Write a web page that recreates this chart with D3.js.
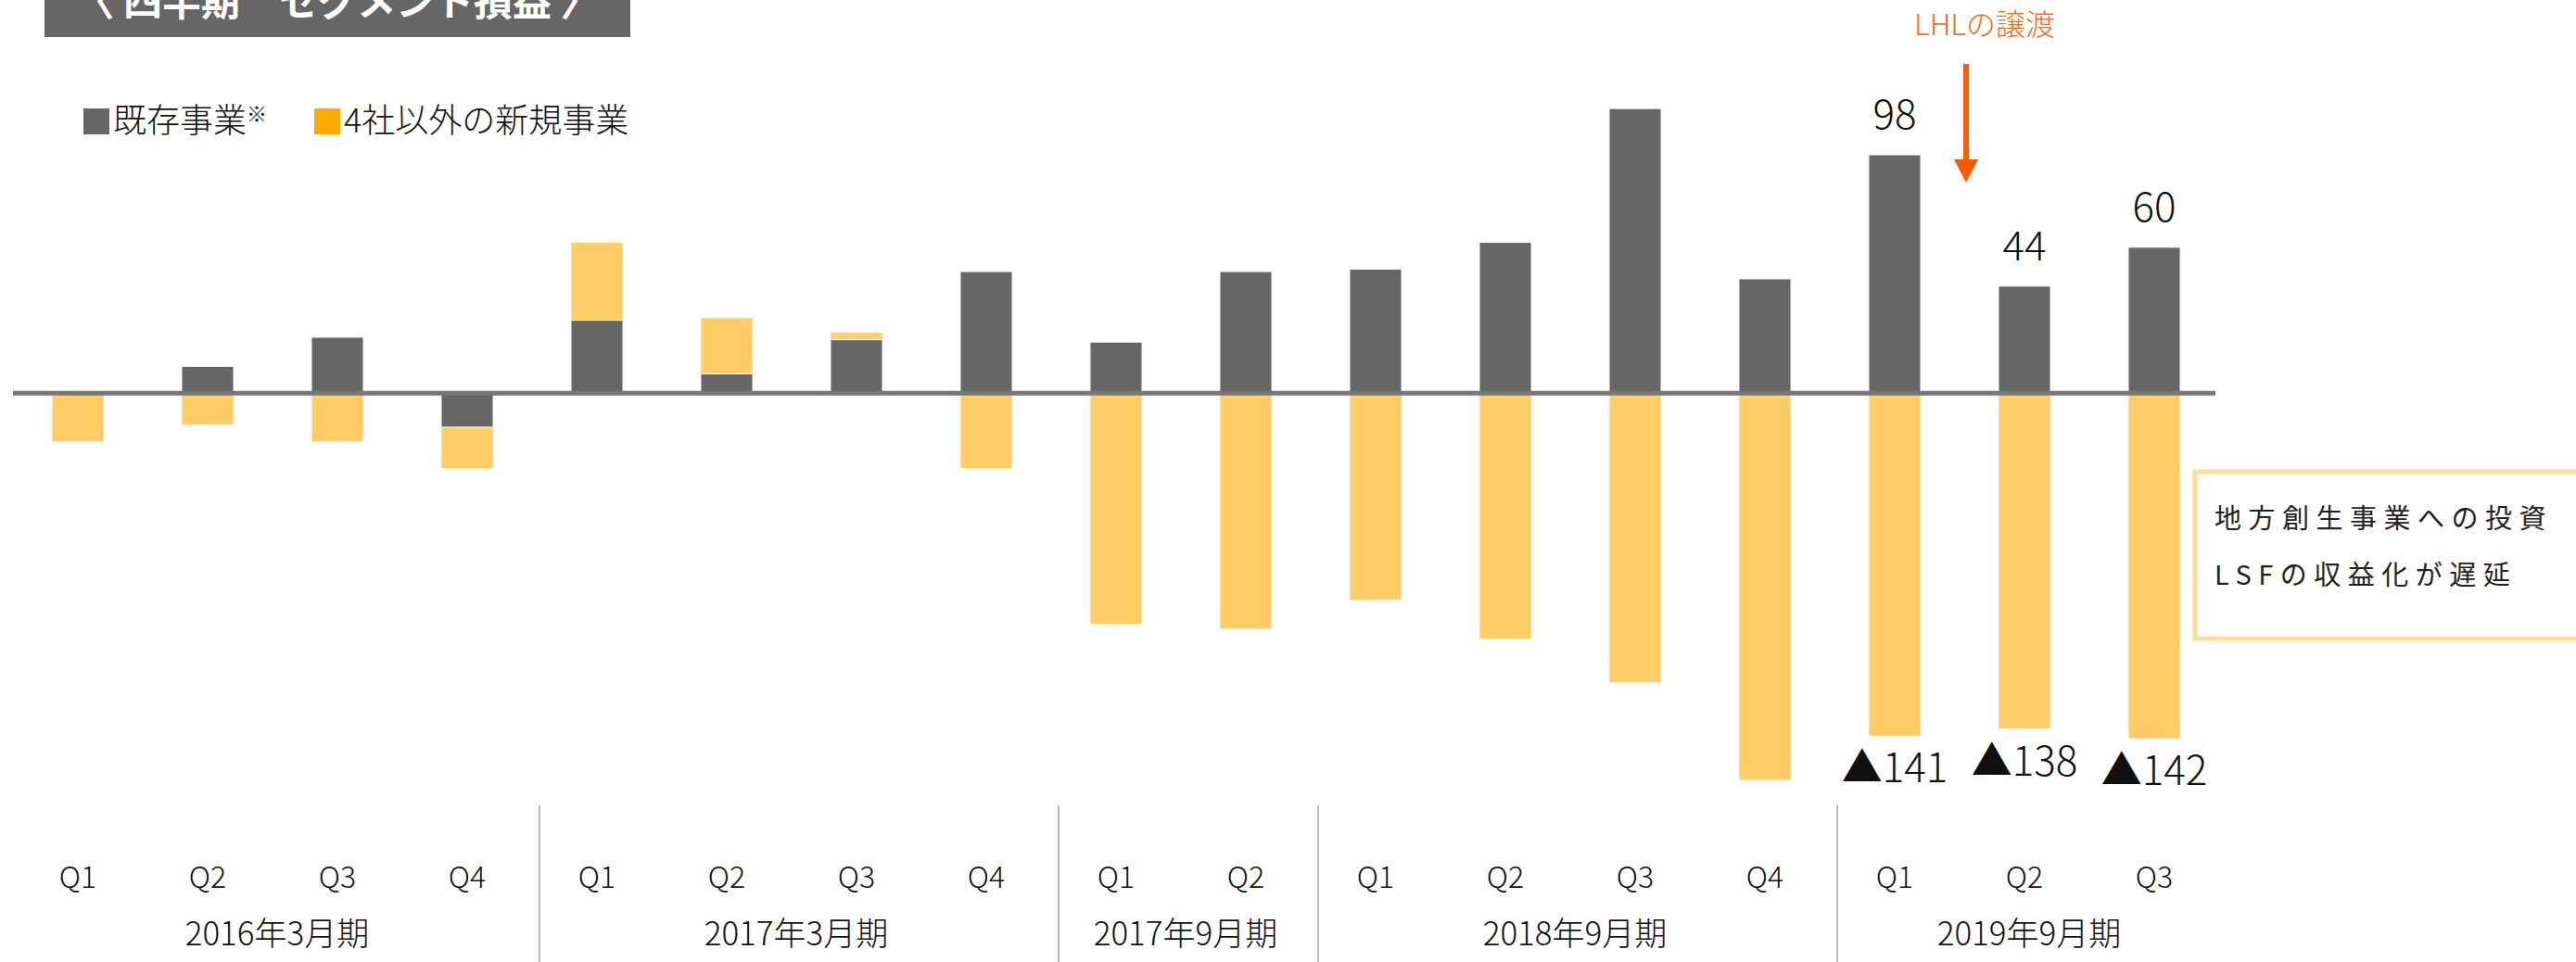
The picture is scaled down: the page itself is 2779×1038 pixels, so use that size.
<!DOCTYPE html>
<html>
<head>
<meta charset="utf-8">
<script src="https://cdn.jsdelivr.net/npm/d3@7"></script>
<style>
  body { margin: 0; background: #fff; }
  svg { display: block; font-family: "Noto Sans CJK JP", "Noto Sans", sans-serif; }
</style>
</head>
<body>
<div id="chart"></div>
<script>
// quarters along the axis and the fiscal period each one belongs to
var quarters = ["Q1", "Q2", "Q3", "Q4", "Q1", "Q2", "Q3", "Q4", "Q1", "Q2", "Q1", "Q2", "Q3", "Q4", "Q1", "Q2", "Q3"];
var periods = ["2016年3月期", "2017年3月期", "2017年9月期", "2018年9月期", "2019年9月期"];
var periodOf = [0, 0, 0, 0, 1, 1, 1, 1, 2, 2, 3, 3, 3, 3, 4, 4, 4];

// segment profit (億円)
var existing = [0, 11, 23, -14, 30, 8, 22, 50, 21, 50, 51, 62, 117, 47, 98, 44, 60];
var newBiz = [-20, -13, -20, -17, 32, 23, 3, -31, -95, -97, -85, -101, -119, -159, -141, -138, -142];

// the last three quarters carry value labels
var labelFrom = 14;

var legendLabels = ["既存事業", "4社以外の新規事業"];
var barColors = { existing: "#666666", newBiz: "#ffcc66" };
var legendColors = ["#666666", "#ffaa00"];

var title = "〈 四半期　セグメント損益 〉";
var noteLines = ["地方創生事業への投資", "LSFの収益化が遅延"];
var arrowText = "LHLの譲渡";

var width = 2779;
var height = 1038;

var svg = d3.select("#chart").append("svg")
  .attr("width", width)
  .attr("height", height);

var x = d3.scaleBand()
  .domain(d3.range(quarters.length))
  .range([14, 2394])
  .paddingInner(0.6)
  .paddingOuter(0.3);

var y = d3.scaleLinear()
  .domain([-160, 120])
  .range([844.3, 109.3]);

var rows = existing.map(function (d, i) { return { existing: d, newBiz: newBiz[i] }; });
var series = d3.stack()
  .keys(["existing", "newBiz"])
  .offset(d3.stackOffsetDiverging)(rows);

// bars
svg.append("g").selectAll("g")
  .data(series)
  .enter().append("g")
  .attr("fill", function (s) { return barColors[s.key]; })
  .selectAll("rect")
  .data(function (s) { return s; })
  .enter().append("rect")
  .attr("x", function (d, i) { return x(i); })
  .attr("y", function (d) { return y(Math.max(d[0], d[1])); })
  .attr("width", x.bandwidth())
  .attr("height", function (d) { return Math.abs(y(d[0]) - y(d[1])); })
  .attr("stroke", "#f4f4f4")
  .attr("stroke-width", 1);

// zero line
svg.append("line")
  .attr("x1", 14).attr("x2", 2390)
  .attr("y1", y(0)).attr("y2", y(0))
  .attr("stroke", "#777")
  .attr("stroke-width", 5);

// value labels
var cx = function (i) { return x(i) + x.bandwidth() / 2; };
var labelled = d3.range(labelFrom, quarters.length);

svg.append("g").selectAll("text")
  .data(labelled)
  .enter().append("text")
  .attr("x", cx)
  .attr("y", function (i) { return y(existing[i]) - 28; })
  .attr("text-anchor", "middle")
  .attr("font-size", 44)
  .attr("font-weight", 300)
  .attr("fill", "#111")
  .text(function (i) { return existing[i]; });

svg.append("g").selectAll("text")
  .data(labelled)
  .enter().append("text")
  .attr("x", cx)
  .attr("y", function (i) { return y(Math.min(0, existing[i]) + newBiz[i]) + 50; })
  .attr("text-anchor", "middle")
  .attr("font-size", 44)
  .attr("font-weight", 300)
  .attr("fill", "#111")
  .text(function (i) { return "▲" + Math.abs(newBiz[i]); });

// quarter ticks and fiscal period labels
svg.append("g").selectAll("text")
  .data(quarters)
  .enter().append("text")
  .attr("x", function (d, i) { return cx(i); })
  .attr("y", 958)
  .attr("text-anchor", "middle")
  .attr("font-size", 32)
  .attr("font-weight", 300)
  .attr("fill", "#111")
  .text(function (d) { return d; });

var groups = periods.map(function (p, k) {
  var idx = d3.range(quarters.length).filter(function (i) { return periodOf[i] === k; });
  return { label: p, first: idx[0], last: idx[idx.length - 1] };
});

svg.append("g").selectAll("text")
  .data(groups)
  .enter().append("text")
  .attr("x", function (g) { return (cx(g.first) + cx(g.last)) / 2 + 5; })
  .attr("y", 1020)
  .attr("text-anchor", "middle")
  .attr("font-size", 35)
  .attr("font-weight", 300)
  .attr("fill", "#111")
  .text(function (g) { return g.label; });

svg.append("g").selectAll("line")
  .data(groups.slice(1))
  .enter().append("line")
  .attr("x1", function (g) { return x(g.first) - x.step() * 0.3 + 8; })
  .attr("x2", function (g) { return x(g.first) - x.step() * 0.3 + 8; })
  .attr("y1", 869).attr("y2", height)
  .attr("stroke", "#bbb")
  .attr("stroke-width", 2);

// title tab (its text runs off the top edge, as in the source slide)
svg.append("rect")
  .attr("x", 48).attr("y", 0)
  .attr("width", 632).attr("height", 40)
  .attr("fill", "#666");

svg.append("text")
  .attr("x", 364).attr("y", 17)
  .attr("text-anchor", "middle")
  .attr("font-size", 42)
  .attr("font-weight", "bold")
  .attr("fill", "#fff")
  .text(title);

// legend
var legend = svg.append("g");
var legendX = [90, 339];

legend.selectAll("rect")
  .data(legendLabels)
  .enter().append("rect")
  .attr("x", function (d, i) { return legendX[i]; })
  .attr("y", 117)
  .attr("width", 28).attr("height", 28)
  .attr("fill", function (d, i) { return legendColors[i]; });

var legendText = legend.selectAll("text")
  .data(legendLabels)
  .enter().append("text")
  .attr("x", function (d, i) { return legendX[i] + 32; })
  .attr("y", 143)
  .attr("font-size", 36)
  .attr("font-weight", 300)
  .attr("fill", "#111");

legendText.append("tspan").text(function (d) { return d; });
legendText.filter(function (d, i) { return i === 0; })
  .append("tspan")
  .attr("font-size", 22)
  .attr("dy", -12)
  .text("※");

// annotation arrow
var arrowX = (x(labelFrom) + x.bandwidth() + x(labelFrom + 1)) / 2 + 7;

svg.append("text")
  .attr("x", arrowX + 20).attr("y", 38)
  .attr("text-anchor", "middle")
  .attr("font-size", 32)
  .attr("font-weight", 300)
  .attr("fill", "#ff6a1a")
  .text(arrowText);

svg.append("line")
  .attr("x1", arrowX).attr("x2", arrowX)
  .attr("y1", 69).attr("y2", 174)
  .attr("stroke", "#ff5a00")
  .attr("stroke-width", 6);

svg.append("path")
  .attr("d", "M" + (arrowX - 13) + ",172 L" + (arrowX + 13) + ",172 L" + arrowX + ",197 Z")
  .attr("fill", "#ff5a00");

// note box
svg.append("rect")
  .attr("x", 2368).attr("y", 509)
  .attr("width", 420).attr("height", 180)
  .attr("fill", "#fff")
  .attr("stroke", "#ffdd99")
  .attr("stroke-width", 5);

svg.append("g").selectAll("text")
  .data(noteLines)
  .enter().append("text")
  .attr("x", 2389)
  .attr("y", function (d, i) { return 570 + i * 61; })
  .attr("font-size", 29)
  .attr("letter-spacing", 7.5)
  .attr("fill", "#222")
  .text(function (d) { return d; });
</script>
</body>
</html>
